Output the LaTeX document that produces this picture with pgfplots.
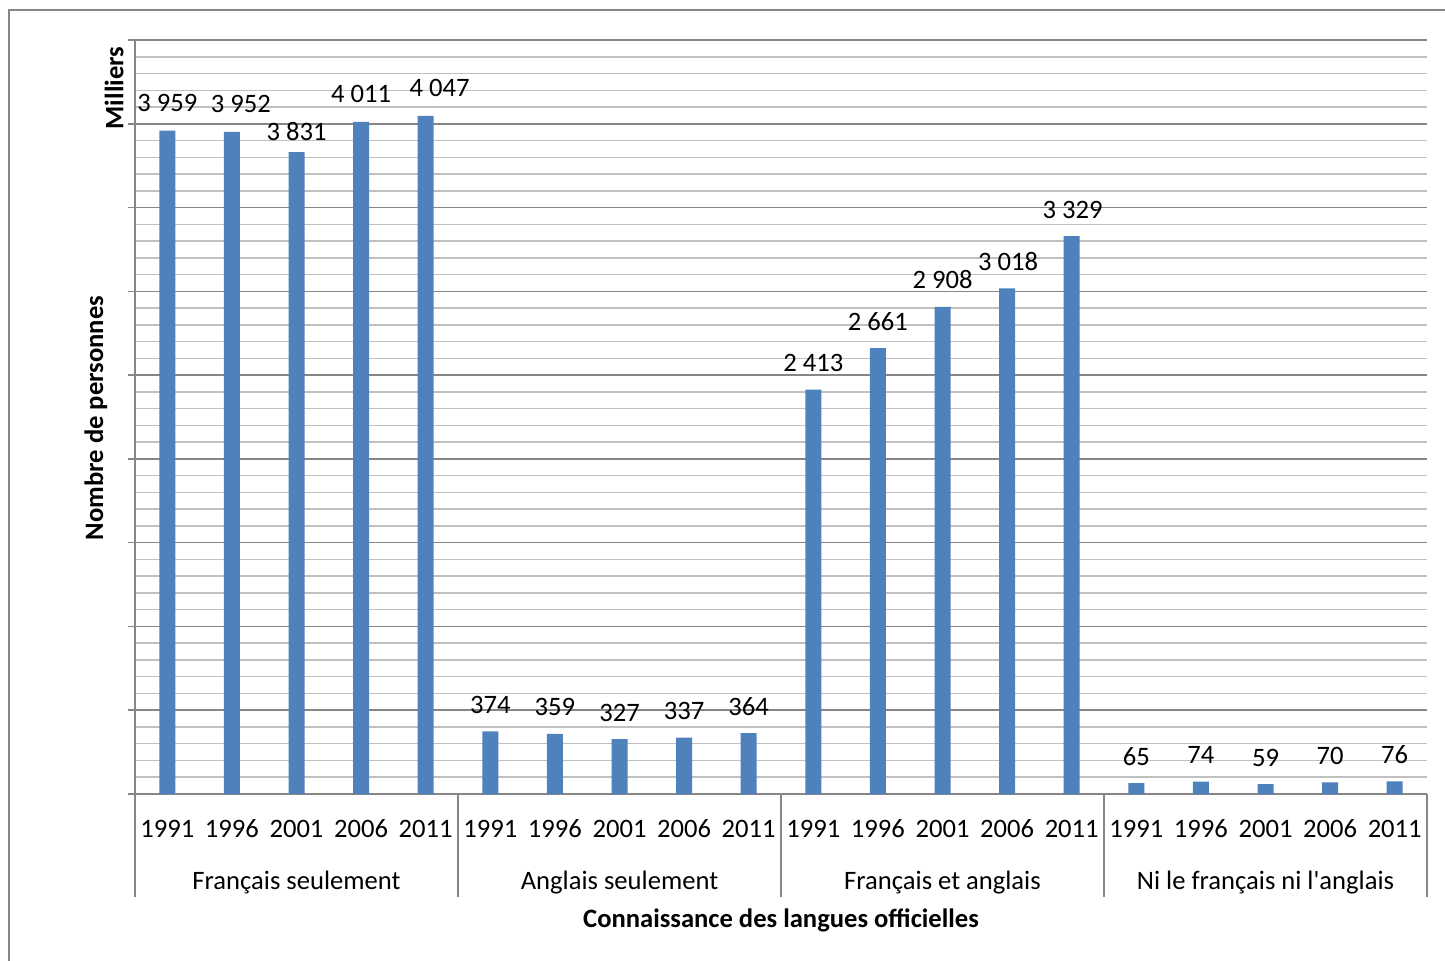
\documentclass[border=0pt]{standalone}
\usepackage{fontspec}
\setmainfont{Carlito}[Ligatures=TeXOff]
\usepackage{pgfplots}
\usepackage{pgfplotstable}
\pgfplotsset{compat=1.18}

\definecolor{barblue}{HTML}{4F81BD}
\definecolor{axisgray}{HTML}{868686}
\definecolor{minorgray}{HTML}{C0C0C0}

% x: position of the bar, y: thousands of persons,
% off / dx: lift and sideways nudge of the value label
\pgfplotstableread{
x  y     off  dx
0  3959  9.5  0
1  3952  9.5  4.5
2  3831  5.7  0
3  4011  9.5  0
4  4047  9.5  7
5  374   9.0  0
6  359   9.0  0
7  327   9.0  0
8  337   9.0  0
9  364   9.0  0
10 2413  9.0  0
11 2661  9.0  0
12 2908  9.0  0
13 3018  9.0  0.5
14 3329  9.0  0.5
15 65    9.0  0
16 74    9.0  0
17 59    9.0  0
18 70    9.0  0
19 76    9.0  0
}\langues

\newcommand\chartfont{\fontsize{13.3}{16}\selectfont}

\begin{document}
\begin{tikzpicture}[font=\chartfont]
\useasboundingbox (0,0) rectangle (722.5pt,480pt);
\fill[white] (0,0) rectangle (722.5pt,480pt);
% chart frame
\draw[axisgray, line width=0.75pt] (4.5pt,-10pt) rectangle (740pt,475pt);

\begin{axis}[
  at={(67.5pt,83pt)}, anchor=south west,
  scale only axis,
  width=646pt, height=377pt,
  ybar, bar width=8pt,
  xmin=-0.5, xmax=19.5,
  ymin=0, ymax=4500,
  ytick distance=500,
  yticklabels={},
  minor y tick num=4,
  ymajorgrids, yminorgrids,
  major grid style={axisgray, line width=0.75pt},
  minor grid style={minorgray, line width=0.75pt},
  minor tick length=0pt,
  major tick length=3.5pt,
  tick align=outside,
  ytick style={axisgray, line width=0.75pt},
  xtick=data,
  xticklabels={1991,1996,2001,2006,2011,1991,1996,2001,2006,2011,
               1991,1996,2001,2006,2011,1991,1996,2001,2006,2011},
  xtick style={draw=none},
  xticklabel style={anchor=base, yshift=-18pt},
  axis x line*=bottom, axis y line*=left,
  axis line style={axisgray, line width=0.75pt},
  clip=false,
  /pgf/number format/assume math mode=true,
  /pgf/number format/1000 sep={\ },
  nodes near coords,
  visualization depends on={\thisrow{off} \as \labeloff},
  visualization depends on={\thisrow{dx} \as \labeldx},
  every node near coord/.append style={anchor=base, yshift=\labeloff pt,
    xshift=\labeldx pt, black, inner sep=0pt},
]
\addplot[fill=barblue, draw=none] table[x=x, y=y] {\langues};

% group separators below the axis
\pgfplotsinvokeforeach{-0.5,4.5,9.5,14.5,19.5}{
  \draw[axisgray, line width=0.75pt] (axis cs:#1,0) -- ([yshift=-51.5pt]axis cs:#1,0);
}
% group names
\node[anchor=base] at ([yshift=-47.5pt]axis cs:2,0) {Français seulement};
\node[anchor=base] at ([yshift=-47.5pt]axis cs:7,0) {Anglais seulement};
\node[anchor=base] at ([yshift=-47.5pt]axis cs:12,0) {Français et anglais};
\node[anchor=base] at ([yshift=-47.5pt]axis cs:17,0) {Ni le français ni l'anglais};
\end{axis}

\node[anchor=base, font=\chartfont\bfseries] at (390.5pt,16.5pt) {Connaissance des langues officielles};
\node[anchor=base, rotate=90, font=\chartfont\bfseries] at (51.5pt,271pt) {Nombre de personnes};
\node[anchor=base, rotate=90, font=\chartfont\bfseries] at (61.7pt,436pt) {Milliers};
\end{tikzpicture}
\end{document}
